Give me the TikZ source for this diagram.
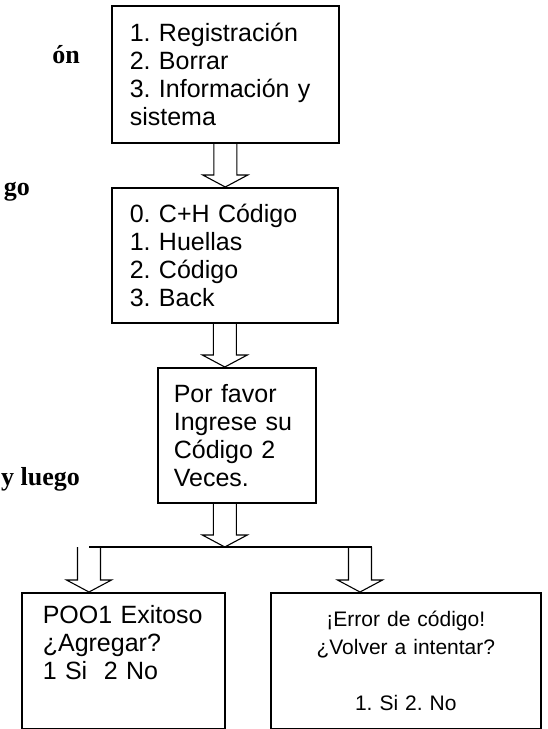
\documentclass[tikz,border=0pt]{standalone}
\usepackage{fontspec}
\setmainfont{Liberation Sans}
\newfontfamily\sideserif{Liberation Serif}
\usetikzlibrary{calc}
\frenchspacing
\newcommand*\blockarrow[2]{\draw[arrowline] let \p1=#1, \p2=#2 in
    (\x1-11.5pt,\y1) -- (\x1-11.5pt,\y2+12pt) -- (\x1-22.5pt,\y2+12pt)
    -- (\x1,\y2) -- (\x1+22.5pt,\y2+12pt) -- (\x1+11.5pt,\y2+12pt)
    -- (\x1+11.5pt,\y1);}

\begin{document}
\begin{tikzpicture}[x=1pt,y=-1pt,
  menubox/.style={draw,line width=1.6pt,anchor=north west,align=left,
    inner xsep=18pt,inner ysep=0pt,font=\fontsize{25pt}{28pt}\selectfont},
  arrowline/.style={line width=1.1pt,line join=miter},
  sidetext/.style={anchor=base east,inner sep=0pt,
    font=\sideserif\bfseries\fontsize{26pt}{29pt}\selectfont}]
\useasboundingbox[fill=white] (0,0) rectangle (547,729);

\node[sidetext] (cut1) at (80,63) {ón};
\node[sidetext] (cut2) at (30,195) {go};
\node[sidetext,anchor=base west] (cut3) at (1,485) {y luego};

\node[menubox,minimum width=227,minimum height=137,text width=191] (reg) at (111,5)
  {1. Registración\\2. Borrar\\3. Información y\\sistema};
\node[menubox,minimum width=226,minimum height=135,text width=190] (menu) at (111,187)
  {0. C+H Código\\1. Huellas\\2. Código\\3. Back};
\node[menubox,inner xsep=16pt,minimum width=158,minimum height=135,text width=126] (fav) at (157,367)
  {Por favor\\Ingrese su\\Código 2\\Veces.};
\node[menubox,inner xsep=21pt,minimum width=203,minimum height=136,text width=161] (poo) at (21,592)
  {POO1 Exitoso\\¿Agregar?\\1 Si\ \ 2 No\\\strut};
\node[menubox,align=center,minimum width=270,minimum height=136,text width=234,
  font=\fontsize{21pt}{28pt}\selectfont] (err) at (270,592)
  {¡Error de código!\\¿Volver a intentar?\\[28pt]1. Si 2. No};

\coordinate (split) at (224,547);
\coordinate (lsplit) at (89,547);
\coordinate (rsplit) at (360,547);

\blockarrow{(reg.south)}{(reg.south |- menu.north)}
\blockarrow{(menu.south)}{(menu.south |- fav.north)}
\blockarrow{(menu.south |- fav.south)}{(split)}
\draw[arrowline] (lsplit) -- ($(rsplit)+(11.5,0)$);
\blockarrow{(lsplit)}{(lsplit |- poo.north)}
\blockarrow{(rsplit)}{(rsplit |- err.north)}
\end{tikzpicture}
\end{document}
